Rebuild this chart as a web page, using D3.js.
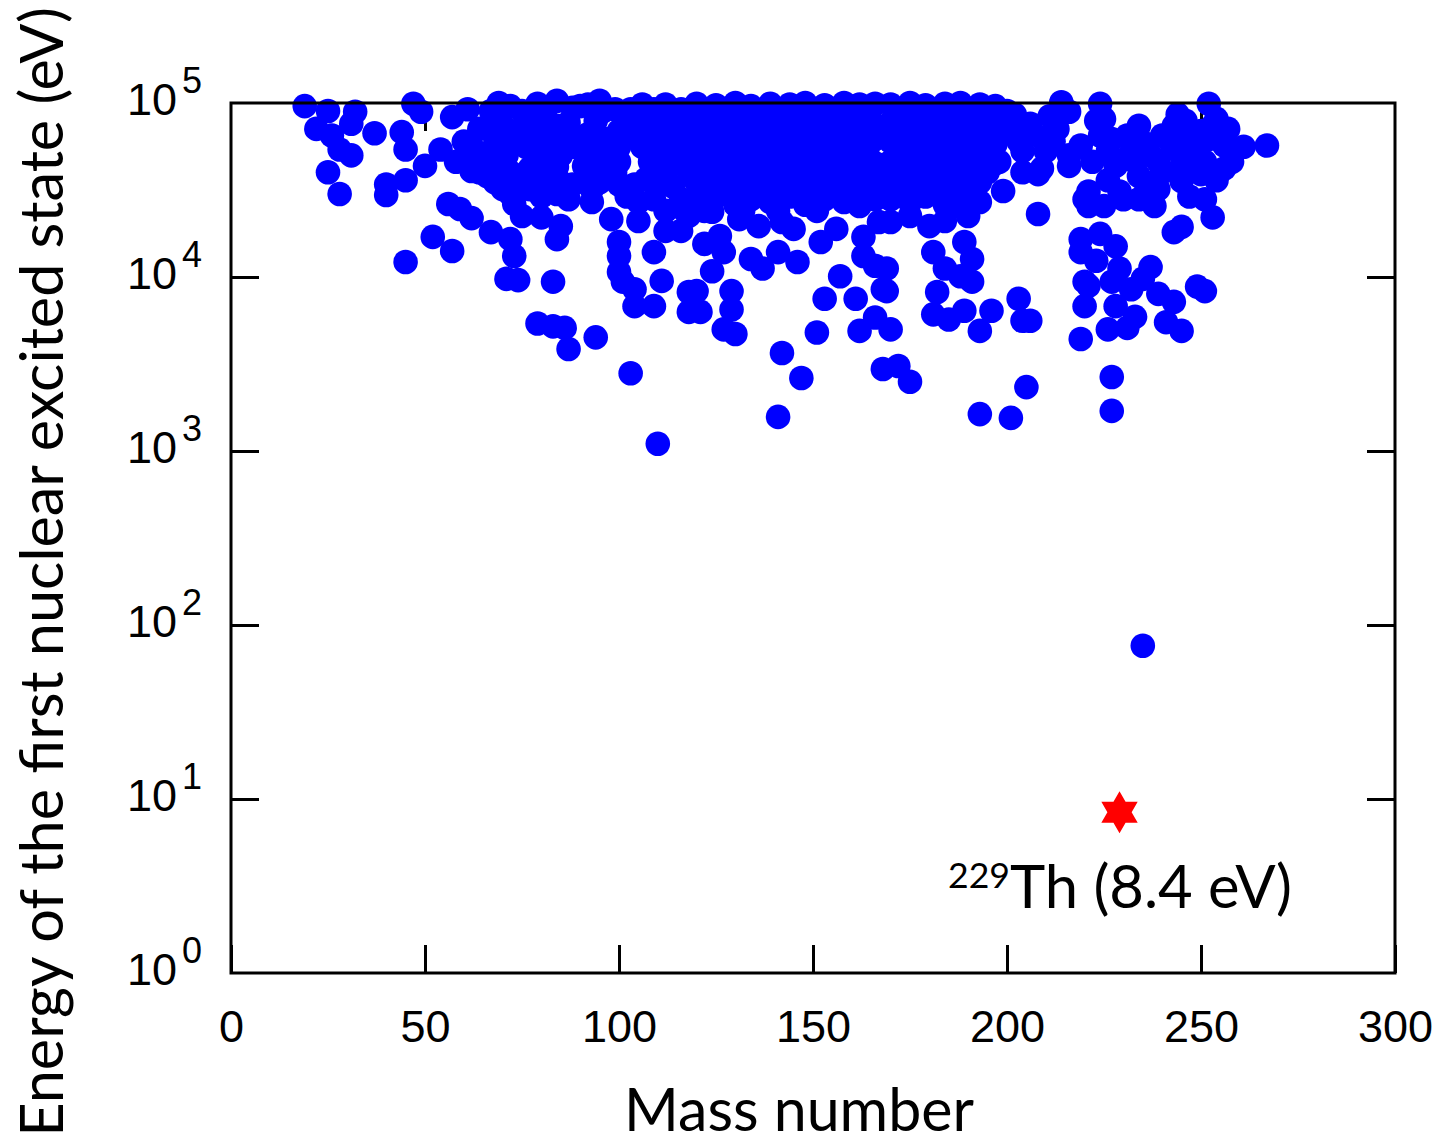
<!DOCTYPE html>
<html><head><meta charset="utf-8">
<script src="https://cdn.jsdelivr.net/npm/d3@7"></script>
<style>body{margin:0;background:#fff}</style>
</head><body>
<svg id="chart" width="1440" height="1143"></svg>
<script>
// ---- data: [mass number, energy of first excited state (eV)] ----
const lightNuclei = [[19,9.6e4],[25,9.0e4],[22,7.1e4],[32,8.9e4],[31,7.6e4],[26,6.5e4],[28,5.4e4],[31,5.0e4],[37,6.7e4],[25,4.0e4],[28,3.0e4],[47,9.9e4],[49,8.9e4],[44,6.8e4],[45,5.4e4],[50,4.35e4],[54,5.4e4],[45,3.6e4],[40,3.4e4],[40,2.96e4],[56,2.63e4],[59,2.46e4],[62,2.18e4],[67,1.81e4],[52,1.7e4],[57,1.41e4],[45,1.22e4],[57,8.3e4],[61,9.2e4],[60,6.0e4],[62,4.07e4],[64,7.1e4],[64,4.0e4],[58,4.6e4],[63,5.3e4],[67,9.0e4]];
const mediumNuclei = [[69,1.0e5],[69,8.4e4],[66,7.1e4],[79,9.9e4],[84,1.03e5],[81,8.4e4],[74,6.5e4],[71,5.0e4],[78,5.7e4],[85,5.0e4],[77,4.2e4],[82,4.0e4],[70,3.2e4],[77,3.2e4],[89,6.2e4],[91,4.35e4],[93,3.2e4],[87,2.8e4],[73,2.63e4],[75,2.24e4],[80,2.2e4],[85,1.96e4],[84,1.65e4],[72,1.65e4],[73,1.32e4],[71,9.75e3],[74,9.6e3],[83,9.4e3],[79,5.4e3],[83,5.2e3],[86,5.1e3],[87,3.86e3],[94,4.5e3],[103,2.8e3],[110,1.1e3],[98,2.15e4],[100,1.59e4],[100,1.32e4],[100,1.07e4],[101,9.4e3],[104,8.5e3],[104,6.8e3],[109,6.8e3],[112,1.84e4],[109,1.39e4],[111,9.5e3],[118,8.2e3],[118,6.3e3],[105,2.1e4],
[99,9.2e4],[103,9.2e4],[109,9.2e4],[116,9.2e4],[97,6.2e4],[104,6.5e4],[111,6.0e4],[118,6.5e4],[100,4.6e4],[107,3.66e4],[112,4.0e4],[116,2.8e4],[109,2.8e4],[102,2.9e4],[105,2.7e4],[95,3.5e4],[99,4.0e4],[84,7.4e4],[71,7.1e4],[66,5.0e4],[66,3.8e4],
[75,9.0e4],[90,9.6e4],[94,7.9e4],[87,7.7e4],[85,3.5e4],[93,5.0e4],[95,1.03e5],[72,4.0e4],[68,5.7e4],[81,6.1e4],[93,2.7e4],[111,7.9e4],[106,7.9e4],[115,4.7e4],[112,2.4e4],[116,1.84e4],[100,6.9e4],[94,4.35e4],[80,2.9e4]];
const mediumFill = [
[68,7.4e4],[68,4.5e4],[68,3.5e4],[72,9.6e4],[72,5.8e4],[72,3.0e4],[76,7.4e4],[76,5.6e4],[76,3.6e4],
[80,7.6e4],[80,4.6e4],[80,3.5e4],[84,5.8e4],[84,4.3e4],[84,3.0e4],[88,9.4e4],[88,5.6e4],[88,3.4e4],
[92,9.8e4],[92,6.6e4],[92,3.8e4],[96,9.0e4],[96,5.4e4],[96,4.2e4],[100,5.6e4],[100,3.4e4],[102,8.0e4],
[104,3.4e4],[106,9.8e4],[106,5.6e4],[108,4.6e4],[108,7.2e4],[110,3.4e4],[112,9.8e4],[112,5.2e4],
[114,7.0e4],[114,3.3e4],[116,5.8e4],[118,8.4e4],[118,4.0e4],[117,2.4e4]];
const rareEarthCore = [
[120,9.9e4],[120,7.6e4],[120,6.1e4],[120,4.7e4],[120,3.5e4],[120,2.7e4],
[125,9.7e4],[125,7.9e4],[125,5.8e4],[125,4.5e4],[125,3.7e4],[125,2.9e4],
[130,1.0e5],[130,7.5e4],[130,6.2e4],[130,4.6e4],[130,3.4e4],[130,2.6e4],
[134,9.6e4],[134,8.0e4],[134,5.9e4],[134,4.8e4],[134,3.6e4],[134,2.8e4],
[139,9.9e4],[139,7.7e4],[139,6.0e4],[139,4.4e4],[139,3.5e4],[139,2.7e4],
[144,9.8e4],[144,7.8e4],[144,6.2e4],[144,4.7e4],[144,3.7e4],[144,2.9e4],
[148,1.0e5],[148,7.6e4],[148,5.8e4],[148,4.6e4],[148,3.5e4],[148,2.6e4],
[153,9.7e4],[153,7.9e4],[153,6.1e4],[153,4.5e4],[153,3.6e4],[153,2.8e4],
[158,1.0e5],[158,7.7e4],[158,5.9e4],[158,4.7e4],[158,3.4e4],[158,2.7e4],
[162,9.8e4],[162,7.8e4],[162,6.0e4],[162,4.6e4],[162,3.7e4],[162,2.9e4],
[166,9.9e4],[166,7.5e4],[166,6.2e4],[166,4.5e4],[166,3.5e4],[166,2.8e4]];
const rareEarthFill = [
[122,8.8e4],[122,6.8e4],[122,5.3e4],[122,4.0e4],[122,3.1e4],[122,2.4e4],
[127,8.6e4],[127,6.9e4],[127,5.2e4],[127,4.1e4],[127,3.2e4],
[132,8.9e4],[132,6.7e4],[132,5.4e4],[132,4.0e4],[132,3.0e4],[132,2.4e4],
[137,8.7e4],[137,6.8e4],[137,5.3e4],[137,4.1e4],[137,3.1e4],
[141,8.8e4],[141,6.9e4],[141,5.2e4],[141,3.9e4],[141,3.1e4],[141,2.4e4],
[146,8.9e4],[146,6.7e4],[146,5.3e4],[146,4.1e4],[146,3.2e4],
[151,8.7e4],[151,6.8e4],[151,5.4e4],[151,4.0e4],[151,3.0e4],[151,2.4e4],
[155,8.8e4],[155,6.9e4],[155,5.2e4],[155,4.0e4],[155,3.1e4],
[160,8.6e4],[160,6.8e4],[160,5.3e4],[160,4.1e4],[160,3.1e4],
[164,8.9e4],[164,6.7e4],[164,5.4e4],[164,4.0e4],[164,3.2e4]];
const rareEarthLow = [[118,2.25e4],[124,2.37e4],[131,2.15e4],[136,1.96e4],[142,2.07e4],[145,1.89e4],[152,1.59e4],[156,1.89e4],[162,2.56e4],[167,2.07e4],[159,3.2e4],[126,1.72e4],[122,1.55e4],[127,1.39e4],[134,1.27e4],[137,1.12e4],[141,1.39e4],[146,1.22e4],[124,1.08e4],[120,8.3e3],[129,8.3e3],[121,6.3e3],[129,6.5e3],[127,5.0e3],[130,4.7e3],[157,1.01e4],[153,7.5e3],[161,7.5e3],[151,4.8e3],[162,4.9e3],[166,5.85e3],[170,5.0e3],[163,1.7e4],[163,1.32e4],[166,1.16e4],[168,8.5e3],
[141,1.57e3],[142,3.66e3],[147,2.63e3],[168,2.96e3],[172,3.08e3],[175,2.5e3]];
const heavyCore = [
[170,9.8e4],[170,7.7e4],[170,6.0e4],[170,4.6e4],[170,3.6e4],[170,2.8e4],
[175,1.0e5],[175,7.9e4],[175,5.8e4],[175,4.5e4],[175,3.5e4],[175,2.7e4],
[179,9.7e4],[179,7.6e4],[179,6.1e4],[179,4.7e4],[179,3.7e4],[179,2.9e4],
[184,9.9e4],[184,7.8e4],[184,5.9e4],[184,4.6e4],[184,3.4e4],[184,2.6e4],
[188,1.0e5],[188,7.5e4],[188,6.2e4],[188,4.4e4],[188,3.6e4],[188,2.8e4],
[193,9.8e4],[193,7.9e4],[193,6.0e4],[193,4.7e4],[193,3.5e4],[193,2.7e4],
[197,9.6e4],[197,7.7e4],[197,5.8e4],[197,4.5e4]];
const heavyFill = [
[172,8.8e4],[172,6.8e4],[172,5.3e4],[172,4.0e4],[172,3.1e4],
[177,8.7e4],[177,6.9e4],[177,5.2e4],[177,4.1e4],[177,3.2e4],
[182,8.9e4],[182,6.7e4],[182,5.3e4],[182,4.0e4],[182,3.0e4],
[186,8.6e4],[186,6.8e4],[186,5.4e4],[186,3.9e4],[186,3.1e4],
[191,8.8e4],[191,6.9e4],[191,5.2e4],[191,4.1e4],[191,3.2e4],
[195,8.7e4],[195,6.7e4],[195,5.3e4],[195,4.0e4]];
const heavyLow = [[170,2.07e4],[169,1.12e4],[169,8.3e3],[180,1.96e4],[181,1.39e4],[184,1.12e4],[189,1.59e4],[191,1.27e4],[191,9.4e3],[188,1.01e4],[182,8.2e3],[181,6.1e3],[185,5.7e3],[189,6.4e3],[193,4.9e3],[196,6.4e3],[203,7.5e3],[204,5.6e3],[206,5.6e3],[190,2.24e4],[187,2.56e4],[191,2.8e4],[199,3.12e4],[208,2.3e4],[205,2.33e3],[193,1.63e3],[201,1.55e3],[184,2.1e4],[175,2.24e4]];
const leadRegion = [[204,4.0e4],[209,4.2e4],[205,6.5e4],[213,7.1e4],[216,8.9e4],[214,1.01e5],[202,8.6e4],[216,5.0e4],[219,5.7e4],[220,2.8e4],[219,1.65e4],[219,1.39e4],[220,9.4e3],[220,6.8e3],[219,4.4e3],[199,6.9e4],[204,5.3e4],[209,6.3e4],[208,3.9e4],[211,8.4e4],[198,4.6e4],[200,9.0e4],
[201,7.8e4],[206,7.6e4],[210,5.3e4],[203,6.0e4],[212,6.0e4]];
const actinides = [[224,9.9e4],[225,8.1e4],[234,7.4e4],[244,8.6e4],[243,7.4e4],[252,9.9e4],[254,8.1e4],[227,6.2e4],[232,5.2e4],[237,5.0e4],[242,6.0e4],[247,6.2e4],[252,6.2e4],[256,5.7e4],[261,5.6e4],[267,5.7e4],[256,4.2e4],[251,4.6e4],[245,4.35e4],[240,4.0e4],[234,3.8e4],[228,4.35e4],[222,4.6e4],[216,4.35e4],[221,3.1e4],[221,2.56e4],[225,2.56e4],[230,2.8e4],[238,2.56e4],[239,3.2e4],[247,2.9e4],[251,2.8e4],[253,2.2e4],[243,1.81e4],[245,1.94e4],[224,1.77e4],[228,1.5e4],[223,1.24e4],[229,1.12e4],[237,1.14e4],[221,8.9e3],[227,9.4e3],[232,8.5e3],[235,9.75e3],[239,8.0e3],[243,7.2e3],[249,8.8e3],[251,8.3e3],[228,6.8e3],[233,5.9e3],[226,5.0e3],[231,5.1e3],[241,5.5e3],[245,4.9e3],[227,2.66e3],[227,1.7e3],
[229,3.1e4],[236,3.3e4],[245,3.56e4],[254,3.6e4],[258,4.6e4],[248,5.3e4],[240,6.5e4],[224,6.5e4],[223,7.9e4],[253,7.4e4],[257,7.1e4],[246,7.9e4],[234,2.8e4],
[226,5.3e4],[231,6.5e4],[236,5.8e4],[250,6.9e4],[244,5.3e4],[239,4.6e4],[233,4.6e4],[250,3.9e4],[226,3.6e4],
[235,76]];
const thoriumMass = 229;
const thoriumEnergy = 8.4;
const xTicks = [0, 50, 100, 150, 200, 250, 300];
const yTicks = [1, 10, 100, 1000, 10000, 100000];
const yTickExponents = ["0", "1", "2", "3", "4", "5"];
const xTitle = "Mass number";
const yTitle = "Energy of the first nuclear excited state (eV)";
const thLabelSup = "229";
const thLabelMain = "Th (8.4 eV)";

const allNuclei = [].concat(lightNuclei, mediumNuclei, mediumFill, rareEarthCore, rareEarthFill,
  rareEarthLow, heavyCore, heavyFill, heavyLow, leadRegion, actinides);

// ---- layout ----
const svg = d3.select("#chart");
const L = 231, R = 1395, T = 103, B = 973;
const x = d3.scaleLinear().domain([0, 300]).range([L, R]);
const y = d3.scaleLog().domain([1, 1e5]).range([B, T]);
const tickLen = 28;
const tickFont = "'Liberation Sans', Arial, Helvetica, sans-serif";
const titleFont = "Lato, 'Open Sans', sans-serif";

function styleAxis(g) {
  g.select(".domain").remove();
  g.selectAll(".tick line").attr("stroke", "#000").attr("stroke-width", 3);
}

// ticks (under the dots)
svg.append("g").attr("transform", `translate(0,${B})`)
  .call(d3.axisBottom(x).tickValues(xTicks).tickSize(-tickLen).tickPadding(37).tickFormat(d3.format("d")))
  .call(styleAxis)
  .call(g => g.selectAll("text").attr("font-family", tickFont).attr("font-size", 45).attr("fill", "#000"));
svg.append("g").attr("transform", `translate(0,${T})`)
  .call(d3.axisTop(x).tickValues(xTicks.slice(1, -1)).tickSize(-tickLen).tickFormat(""))
  .call(styleAxis);
svg.append("g").attr("transform", `translate(${L},0)`)
  .call(d3.axisLeft(y).tickValues(yTicks.slice(1, -1)).tickSize(-tickLen).tickFormat(""))
  .call(styleAxis);
svg.append("g").attr("transform", `translate(${R},0)`)
  .call(d3.axisRight(y).tickValues(yTicks.slice(1, -1)).tickSize(-tickLen).tickFormat(""))
  .call(styleAxis);

// y tick labels 10^n
const yl = svg.append("g").attr("font-family", tickFont).attr("fill", "#000");
yTicks.forEach((v, i) => {
  yl.append("text").attr("x", 177).attr("y", y(v) + 12).attr("text-anchor", "end")
    .attr("font-size", 45).text("10");
  yl.append("text").attr("x", 182).attr("y", y(v) - 10).attr("text-anchor", "start")
    .attr("font-size", 36).text(yTickExponents[i]);
});

// data points
svg.append("g").selectAll("circle").data(allNuclei).join("circle")
  .attr("cx", d => x(d[0])).attr("cy", d => y(d[1])).attr("r", 12.3)
  .attr("fill", "#0000ff");

// 229Th star (hexagram)
const hexagram = d3.lineRadial()
  .angle((d, i) => i * Math.PI / 6)
  .radius(d => d)
  .curve(d3.curveLinearClosed);
const R6 = 21;
const starRadii = d3.range(12).map(i => (i % 2 === 0 ? R6 : R6 / Math.sqrt(3)));
svg.append("path")
  .attr("d", hexagram(starRadii))
  .attr("transform", `translate(${x(thoriumMass)},${y(thoriumEnergy)})`)
  .attr("fill", "#ff0000");

// frame on top
svg.append("rect").attr("x", L).attr("y", T).attr("width", R - L).attr("height", B - T)
  .attr("fill", "none").attr("stroke", "#000").attr("stroke-width", 3);

// fit helper
function fitText(sel, target) {
  const len = sel.node().getComputedTextLength();
  const fs = parseFloat(sel.attr("font-size"));
  sel.attr("font-size", fs * target / len);
}

// titles
const xt = svg.append("text").attr("x", (623 + 975) / 2).attr("y", 1131)
  .attr("text-anchor", "middle").attr("font-family", titleFont).attr("font-size", 56)
  .attr("fill", "#000").text(xTitle);
fitText(xt, 350);

const yt = svg.append("text").attr("transform", "translate(63,572) rotate(-90)")
  .attr("text-anchor", "middle").attr("font-family", titleFont).attr("font-size", 56)
  .attr("fill", "#000").text(yTitle);
fitText(yt, 1130);

// annotation
const ts = svg.append("text").attr("x", 1010).attr("y", 888).attr("text-anchor", "end")
  .attr("font-family", titleFont).attr("font-size", 38).attr("fill", "#000").text(thLabelSup);
fitText(ts, 62);
const tm = svg.append("text").attr("x", 1010).attr("y", 908).attr("text-anchor", "start")
  .attr("font-family", titleFont).attr("font-size", 58).attr("fill", "#000").text(thLabelMain);
fitText(tm, 282);
</script>
</body></html>
